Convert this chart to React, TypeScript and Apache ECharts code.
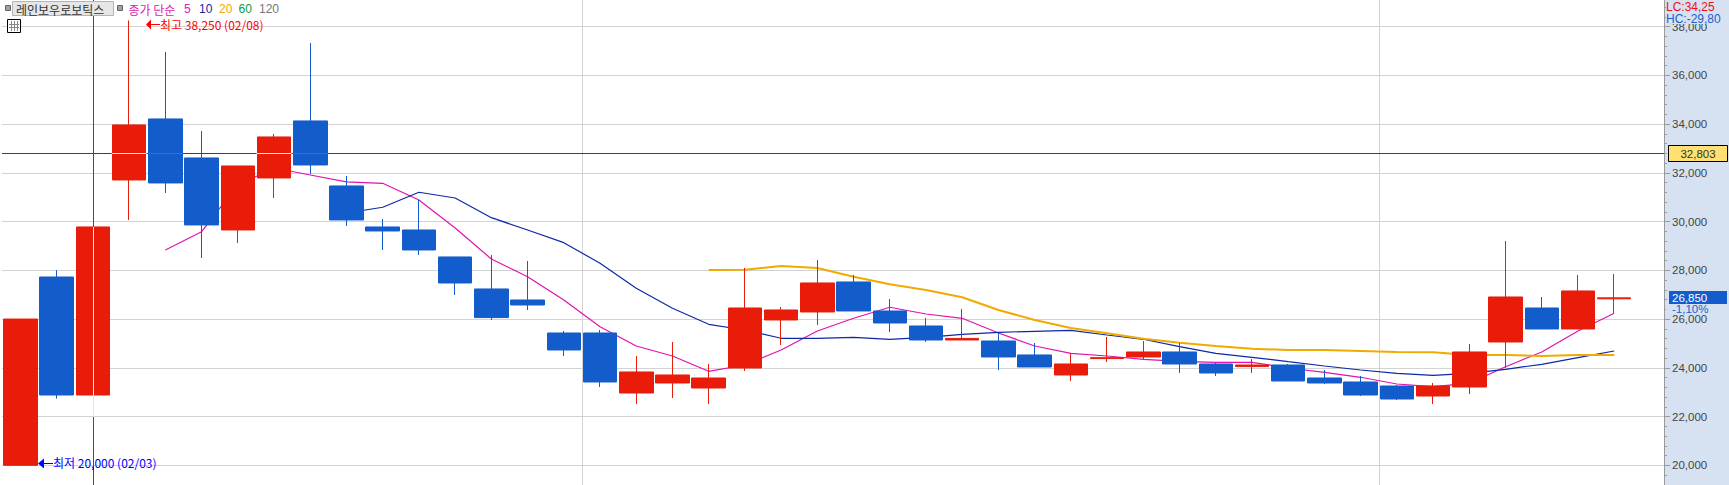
import React, { useEffect, useRef } from "react";
import * as echarts from "echarts";

const dates = ["02/03","02/04","02/05","02/08","02/09","02/10","02/15","02/16","02/17","02/18","02/19","02/22","02/23","02/24","02/25","02/26","03/02","03/03","03/04","03/05","03/08","03/09","03/10","03/11","03/12","03/15","03/16","03/17","03/18","03/19","03/22","03/23","03/24","03/25","03/26","03/29","03/30","03/31","04/01","04/02","04/05","04/06","04/07","04/08","04/09"];
const opens = [20000,27725,22884,31706,34209,32609,29654,31788,34127,31460,29778,29654,28547,27234,26782,25428,25428,22966,23377,23172,23992,25962,26290,27521,26331,25715,25141,25100,24526,23705,24380,24444,24649,24156,24050,24115,23582,23418,23254,22843,23213,25059,26454,25592,26830];
const closes = [26000,22884,29778,33963,31583,29860,32280,33470,32321,30065,29613,28834,27480,26060,26577,24731,23418,23828,23705,23582,26454,26372,27480,26331,25839,25141,25205,24444,24033,24156,24415,24649,24156,23787,24115,23459,23377,22884,22720,23254,24649,26905,25592,27152,26870];
const lows = [20000,22733,22884,30065,31173,28506,29121,30967,31952,29818,28834,28629,26987,25962,26372,24485,23213,22515,22761,22515,23869,24936,25756,26331,25469,25059,25141,23910,24033,23459,24238,24362,23787,23664,23787,23459,23336,22843,22679,22515,22925,23992,25592,25592,26249];
const highs = [26000,28010,29778,38250,36958,33716,32280,33593,37327,31870,30106,30885,28547,28629,28382,25510,25551,24485,25059,24156,28095,26495,28424,27808,26823,26044,26413,25428,25018,24608,25264,25100,25018,24197,24362,24156,23910,23664,23295,23377,24977,29203,26905,27808,27849];

const ma5 = [null,null,null,null,28834,29585,31500,32198,31911,31624,31570,30885,29736,28464,27738,26782,25687,24895,24485,23857,24115,24731,25510,26031,26483,26208,26031,25428,24895,24595,24485,24349,24267,24226,24226,23992,23816,23611,23336,23225,23364,24046,24649,25510,26237];
const ma10 = [null,null,null,null,null,null,null,null,null,30352,30586,31201,30967,30159,29654,29133,28288,27262,26442,25785,25551,25211,25211,25252,25170,25252,25375,25457,25498,25539,25346,25170,24866,24595,24431,24251,24074,23910,23775,23693,23775,23939,24144,24415,24690];
const ma20 = [null,null,null,null,null,null,null,null,null,null,null,null,null,null,null,null,null,null,null,28013,28025,28177,28095,27738,27426,27193,26893,26372,25962,25633,25416,25194,25030,24895,24784,24731,24731,24690,24649,24636,24526,24526,24485,24526,24526];

const majorTicks = [20000,22000,24000,26000,28000,30000,32000,34000,36000,38000];
const monthStarts = ["03/02","04/01"];
const crossValue = 32803;
const crossCategory = "02/05";
const hMarks: [string, string][] = [["02/08","#fbe9e6"],["02/09","#2b8f45"],["02/16","#fbe9e6"],["02/17","#2b8f45"]];
const vMarks: [string, number, number, string][] = [[crossCategory,22884,29778,"#fbe9e6"],[crossCategory,21980,22884,"#e4e4f6"]];

const yMin = 19192;
const yMax = 39089;
const RED = "#e81c09";
const BLUE = "#125ccb";
const PANEL = "#d6e2f1";
const LATIN = "'Liberation Sans','Noto Sans CJK KR',sans-serif";
const KR = "'Noto Sans CJK KR','Liberation Sans',sans-serif";

function label(text: string, x: number, y: number, fill: string, size = 12, family = LATIN, z = 20, align = "left") {
  return { type: "text", x, y, z, silent: true, style: { text, fill, font: `${size}px ${family}`, verticalAlign: "middle", align } };
}
function rect(x: number, y: number, w: number, h: number, fill: string, stroke?: string, z = 18) {
  return { type: "rect", z, silent: true, shape: { x, y, width: w, height: h }, style: { fill, stroke: stroke ?? "none", lineWidth: stroke ? 1 : 0 } };
}

export default function App() {
  const ref = useRef<HTMLDivElement>(null);
  useEffect(() => {
    document.body.style.margin = "0";
    const chart = echarts.init(ref.current!, undefined, { renderer: "svg" });
    const minorTicks: number[] = [];
    for (let v = 19200; v <= 39000; v += 400) minorTicks.push(v);

    const calendarLines = [10.5, 13.5, 16.5].map((x) => ({ type: "line", z: 20, silent: true, shape: { x1: x + 1, y1: 21, x2: x + 1, y2: 31 }, style: { stroke: "#888", lineWidth: 1 } }));
    const calendarRows = [24.5, 27.5].map((y) => ({ type: "line", z: 20, silent: true, shape: { x1: 9, y1: y, x2: 19, y2: y }, style: { stroke: "#888", lineWidth: 1 } }));

    const graphics: any[] = [
      { type: "rect", z: -1, silent: true, shape: { x: 1665, y: 0, width: 64, height: 485 }, style: { fill: PANEL } },
      rect(5.5, 5.5, 5, 5, "#a0a0a0", "#666"),
      rect(12.5, 1.5, 101, 14, "#e6e6e6", "#b4b4b4"),
      label("레인보우로보틱스", 16, 9, "#333", 12, KR),
      rect(117.5, 5.5, 5, 5, "#a0a0a0", "#666"),
      label("종가 단순", 128.5, 9, "#e020b0", 12, KR),
      label("5", 184, 9, "#e020b0"),
      label("10", 199, 9, "#1428a0"),
      label("20", 219, 9, "#f0a800"),
      label("60", 238.5, 9, "#109840"),
      label("120", 259, 9, "#777777"),
      rect(7.5, 19.5, 13, 13, "#ffffff", "#000"),
      ...calendarLines,
      ...calendarRows,
      { type: "polygon", z: 20, silent: true, shape: { points: [[146, 24.5], [151, 19.5], [151, 29.5]] }, style: { fill: "#ff0000" } },
      { type: "line", z: 20, silent: true, shape: { x1: 150, y1: 24.5, x2: 160, y2: 24.5 }, style: { stroke: "#ff0000", lineWidth: 1 } },
      label("최고 38,250 (02/08)", 160, 24, "#ff0000", 12, KR),
      { type: "polygon", z: 20, silent: true, shape: { points: [[38, 463.5], [44, 458.5], [44, 468.5]] }, style: { fill: "#0000ff" } },
      { type: "line", z: 20, silent: true, shape: { x1: 43, y1: 463.5, x2: 53, y2: 463.5 }, style: { stroke: "#0000ff", lineWidth: 1 } },
      label("최저 20,000 (02/03)", 53, 462, "#0000ff", 12, KR),
      rect(1666, 0, 63, 24, PANEL),
      label("LC:34,25", 1666, 6.5, "#ee1111", 12),
      label("HC:-29,80", 1666, 18.5, "#1a60d0", 12),
      rect(1668.5, 145.5, 59, 16, "#ffe070", "#000"),
      label("32,803", 1698, 153.5, "#333", 11.5, LATIN, 20, "center"),
      rect(1666, 304, 63, 10, PANEL),
      rect(1669, 291, 58, 13, BLUE),
      label("26,850", 1672, 297.5, "#ffffff", 11.5),
      label("-1,10%", 1672, 309, "#1a60d0", 11.5),
    ];

    const option: any = {
      animation: false,
      backgroundColor: "#ffffff",
      graphic: { elements: graphics },
      grid: [
        { left: 2, top: 0, width: 1662, height: 485, containLabel: false },
        { left: 2.4, top: 0, width: 1629.9, height: 485, containLabel: false },
      ],
      xAxis: [
        { gridIndex: 0, type: "category", data: dates, axisLine: { show: false }, axisTick: { show: false }, axisLabel: { show: false }, splitLine: { show: false } },
        { gridIndex: 1, type: "category", data: dates, axisLine: { show: false }, axisTick: { show: false }, axisLabel: { show: false }, splitLine: { show: false } },
      ],
      yAxis: [
        {
          gridIndex: 0, type: "value", position: "right", min: yMin, max: yMax, scale: true,
          axisLine: { show: true, lineStyle: { color: "#9a9a9a", width: 1 } },
          axisTick: { show: true, length: 6, customValues: majorTicks, lineStyle: { color: "#9a9a9a" } },
          axisLabel: {
            show: true, customValues: majorTicks, margin: 8, color: "#444444", fontSize: 11.5, fontFamily: LATIN,
            formatter: (v: number) => v.toLocaleString("en-US"),
          },
          splitLine: { show: true, customValues: majorTicks, lineStyle: { color: "#d3d3d3", width: 1 } },
        },
        {
          gridIndex: 0, type: "value", position: "right", min: yMin, max: yMax, scale: true,
          axisLine: { show: false },
          axisTick: { show: true, length: 3, customValues: minorTicks, lineStyle: { color: "#9a9a9a" } },
          axisLabel: { show: false },
          splitLine: { show: false },
        },
        { gridIndex: 1, type: "value", show: false, min: yMin, max: yMax, scale: true, splitLine: { show: false } },
      ],
      series: [
        {
          type: "custom", name: "monthLines", xAxisIndex: 1, yAxisIndex: 2, z: 1, silent: true,
          data: monthStarts.map((d) => [d, yMin]),
          renderItem: (p: any, api: any) => {
            const c = api.coord([api.value(0), api.value(1)]);
            const x = Math.round(c[0] - api.size([1, 0])[0] / 2) + 0.5;
            return { type: "line", shape: { x1: x, y1: 0, x2: x, y2: 485 }, style: { stroke: "#d3d3d3", lineWidth: 1 } };
          },
        },
        {
          type: "line", name: "crosshair", xAxisIndex: 0, yAxisIndex: 0, data: [], silent: true, z: 6,
          markLine: { silent: true, symbol: "none", label: { show: false }, animation: false, lineStyle: { color: "#dd0000", width: 1, type: "solid" }, data: [{ yAxis: crossValue }] },
        },
        { type: "line", name: "5", xAxisIndex: 1, yAxisIndex: 2, data: ma5, showSymbol: false, symbol: "none", z: 2, lineStyle: { color: "#e012b0", width: 1.2 } },
        { type: "line", name: "10", xAxisIndex: 1, yAxisIndex: 2, data: ma10, showSymbol: false, symbol: "none", z: 2, lineStyle: { color: "#0c28a8", width: 1.2 } },
        { type: "line", name: "20", xAxisIndex: 1, yAxisIndex: 2, data: ma20, showSymbol: false, symbol: "none", z: 2, lineStyle: { color: "#f0aa00", width: 2 } },
        {
          type: "candlestick", name: "레인보우로보틱스", xAxisIndex: 1, yAxisIndex: 2, barWidth: 34, z: 3,
          data: dates.map((_, i) => [opens[i], closes[i], lows[i], highs[i]]),
          itemStyle: { color: RED, color0: BLUE, borderColor: RED, borderColor0: BLUE, borderWidth: 1 },
          markLine: {
            silent: true, symbol: "none", label: { show: false }, animation: false,
            lineStyle: { color: "#ff0000", width: 1, type: "solid" },
            data: [{ xAxis: crossCategory }],
          },
        },
        {
          type: "custom", name: "crossH", xAxisIndex: 1, yAxisIndex: 2, z: 8, silent: true,
          data: hMarks.map(([d]) => [d, crossValue]),
          renderItem: (p: any, api: any) => {
            const c = api.coord([api.value(0), api.value(1)]);
            const half = api.size([1, 0])[0] * 0.483;
            return { type: "line", shape: { x1: c[0] - half, y1: Math.round(c[1]) + 0.5, x2: c[0] + half, y2: Math.round(c[1]) + 0.5 }, style: { stroke: hMarks[p.dataIndex][1], lineWidth: 1 } };
          },
        },
        {
          type: "custom", name: "crossV", xAxisIndex: 1, yAxisIndex: 2, z: 8, silent: true,
          data: vMarks.map(([d, a, b]) => [d, a, b]),
          renderItem: (p: any, api: any) => {
            const a = api.coord([api.value(0), api.value(1)]);
            const b = api.coord([api.value(0), api.value(2)]);
            const x = Math.round(a[0]) + 0.5;
            return { type: "line", shape: { x1: x, y1: a[1], x2: x, y2: b[1] }, style: { stroke: vMarks[p.dataIndex][3], lineWidth: 1 } };
          },
        },
      ],
    };
    chart.setOption(option);
    return () => chart.dispose();
  }, []);
  return <div ref={ref} style={{ position: "absolute", left: 0, top: 0, width: 1729, height: 485 }} />;
}
